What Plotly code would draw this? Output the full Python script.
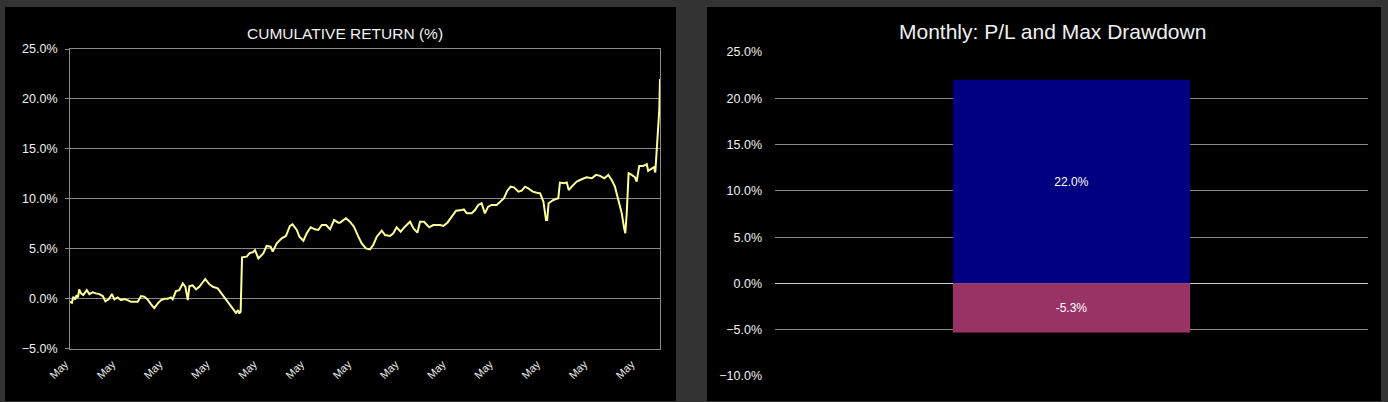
import plotly.graph_objects as go

# ---------------- data ----------------
cum_day = [0.00, 0.08, 0.14, 0.22, 0.28, 0.34, 0.39, 0.47, 0.56, 0.71, 0.82, 0.96, 1.10, 1.24, 1.39, 1.50,
           1.64, 1.78, 1.88, 2.02, 2.16, 2.30, 2.44, 2.58, 2.87, 3.01, 3.15, 3.29, 3.43, 3.57, 3.72, 3.86,
           4.00, 4.14, 4.28, 4.35, 4.49, 4.63, 4.78, 4.89, 4.99, 5.06, 5.20, 5.34, 5.48, 5.73, 5.90, 6.05,
           6.26, 6.40, 6.54, 6.68, 6.82, 6.96, 7.03, 7.12, 7.17, 7.23, 7.26, 7.29, 7.49, 7.60, 7.77, 7.84,
           7.98, 8.19, 8.33, 8.50, 8.59, 8.76, 8.97, 9.15, 9.32, 9.43, 9.61, 9.72, 9.89, 10.03, 10.20, 10.38,
           10.52, 10.67, 10.85, 11.02, 11.19, 11.37, 11.44, 11.69, 11.86, 12.03, 12.22, 12.36, 12.54, 12.71,
           12.85, 13.00, 13.21, 13.35, 13.56, 13.70, 13.84, 14.01, 14.19, 14.41, 14.55, 14.72, 14.83, 15.00,
           15.22, 15.39, 15.68, 15.82, 15.99, 16.17, 16.36, 16.60, 16.69, 16.81, 17.02, 17.16, 17.30, 17.44,
           17.58, 17.72, 17.87, 18.08, 18.25, 18.39, 18.53, 18.67, 18.81, 19.00, 19.14, 19.28, 19.42, 19.61,
           19.78, 19.92, 20.06, 20.17, 20.22, 20.28, 20.48, 20.69, 20.76, 20.93, 21.05, 21.13, 21.26, 21.47,
           21.68, 21.89, 22.11, 22.29, 22.46, 22.64, 22.81, 22.95, 23.09, 23.23, 23.38, 23.47, 23.53, 23.59,
           23.67, 23.80, 23.94, 24.01, 24.12, 24.29, 24.44, 24.50, 24.65, 24.75, 24.80, 24.86, 24.93, 24.97,
           25.00]
cum_ret = [-0.32, -0.42, 0.18, -0.08, 0.35, 0.12, 0.92, 0.52, 0.35, 0.85, 0.45, 0.62, 0.52, 0.45, 0.25, -0.28,
           -0.08, 0.45, -0.08, 0.12, -0.15, -0.05, -0.15, -0.32, -0.32, 0.25, 0.18, -0.08, -0.55, -0.95, -0.48, -0.15,
           -0.02, -0.02, 0.12, -0.08, 0.75, 0.85, 1.52, 1.18, -0.15, 1.25, 1.32, 0.92, 1.18, 1.96, 1.45, 1.18,
           1.02, 0.58, 0.18, -0.32, -0.75, -1.22, -1.42, -1.15, -1.49, -1.32, 1.18, 4.13, 4.20, 4.53, 4.67, 4.86,
           4.03, 4.53, 5.27, 5.20, 4.70, 5.53, 6.03, 6.27, 7.27, 7.44, 6.87, 6.20, 5.80, 6.54, 7.14, 6.94,
           6.87, 7.37, 7.37, 6.94, 7.87, 7.60, 7.60, 8.04, 7.70, 7.20, 6.20, 5.53, 5.03, 4.93,
           5.37, 6.20, 6.80, 6.37, 6.27, 6.54, 7.14, 6.70, 7.20, 7.70, 7.04, 6.60, 7.70, 7.70,
           7.14, 7.37, 7.37, 7.27, 7.60, 8.20, 8.80, 8.87, 8.94, 8.54, 8.54, 8.87, 9.38, 9.55,
           8.54, 9.21, 9.38, 9.38, 9.71, 10.05, 10.81, 11.21, 11.14, 10.71, 10.81, 11.21, 11.04, 10.71,
           10.61, 10.54, 9.71, 7.87, 7.87, 9.55, 9.88, 10.05, 11.62, 11.55, 11.62, 10.88, 11.21, 11.72,
           11.95, 12.15, 12.05, 12.39, 12.29, 12.05, 12.39, 11.89, 11.21, 9.88, 8.54, 7.20, 6.54, 8.54,
           12.56, 12.39, 12.15, 11.72, 13.29, 13.29, 13.46, 12.79, 13.06, 13.16, 12.63, 14.56, 16.90, 18.90,
           22.00]
date_tick_vals = [0, 2, 4, 6, 8, 10, 12, 14, 16, 18, 20, 22, 24]
date_tick_text = ["May"] * 13

month_cat = ["May"]
pl_values = [22.0]
dd_values = [-5.3]
pl_labels = ["22.0%"]
dd_labels = ["-5.3%"]

# ---------------- layout geometry ----------------
W, H = 1388, 402
def px_x(p): return p / W
def px_y(p): return 1 - p / H

L_dom_x = [px_x(70), px_x(660)]
L_dom_y = [px_y(348.5), px_y(49)]
L_range = [-5, 25]
R_dom_x = [px_x(775), px_x(1368)]
R_dom_y = [px_y(376), px_y(52)]
R_range = [-10, 25]
zero_pos = L_dom_y[0] + (0 - L_range[0]) / (L_range[1] - L_range[0]) * (L_dom_y[1] - L_dom_y[0])

GRID = "#8a8a8a"
TXT = "#f0f0f0"
REG = "Liberation Sans, Arial, sans-serif"

fig = go.Figure()
fig.add_trace(go.Scatter(x=cum_day, y=cum_ret, mode="lines",
                         line=dict(color="#ffff99", width=2), xaxis="x", yaxis="y",
                         showlegend=False, hoverinfo="skip"))
fig.add_trace(go.Bar(x=month_cat, y=pl_values, text=pl_labels, marker_color="#000080",
                     marker_line_width=0,
                     width=0.4, xaxis="x2", yaxis="y2", showlegend=False,
                     textposition="inside", insidetextanchor="middle", textangle=0,
                     textfont=dict(color="white", size=12, family=REG)))
fig.add_trace(go.Bar(x=month_cat, y=dd_values, text=dd_labels, marker_color="#993366",
                     marker_line_width=0,
                     width=0.4, xaxis="x2", yaxis="y2", showlegend=False,
                     textposition="inside", insidetextanchor="middle", textangle=0,
                     textfont=dict(color="white", size=12, family=REG)))

fig.update_layout(
    width=W, height=H, autosize=False,
    margin=dict(l=0, r=0, t=0, b=0, pad=0),
    paper_bgcolor="#333333", plot_bgcolor="#000000",
    barmode="relative",
    shapes=[
        dict(type="rect", xref="paper", yref="paper", x0=px_x(5), x1=px_x(676), y0=px_y(401), y1=px_y(7),
             fillcolor="#000000", line=dict(width=0), layer="below"),
        dict(type="rect", xref="paper", yref="paper", x0=px_x(707), x1=px_x(1381), y0=px_y(401), y1=px_y(7),
             fillcolor="#000000", line=dict(width=0), layer="below"),
    ],
    xaxis=dict(domain=L_dom_x, range=[0, 25], anchor="y", tickmode="array",
               tickvals=date_tick_vals, ticktext=date_tick_text, tickangle=-45,
               ticks="", showgrid=False, zeroline=False, showline=True, mirror=True,
               linecolor=GRID, linewidth=1, ticklabelstandoff=4, ticklabelshift=-5,
               tickfont=dict(color=TXT, size=11, family=REG), automargin=False),
    xaxis3=dict(domain=L_dom_x, range=[0, 25], overlaying="x", anchor="free", position=zero_pos,
                tickmode="linear", tick0=0, dtick=1, ticks="outside", ticklen=4, tickcolor="#c8c8c8",
                showticklabels=False, showgrid=False, zeroline=False, showline=True,
                linecolor="#c8c8c8", linewidth=1, automargin=False),
    yaxis=dict(domain=L_dom_y, range=L_range, anchor="x", dtick=5, tick0=0,
               tickformat=".1f", ticksuffix="%", ticks="outside", ticklen=4, tickcolor=GRID,
               showgrid=True, gridcolor=GRID, gridwidth=1, zeroline=False,
               showline=True, mirror=True, linecolor=GRID, ticklabelstandoff=5,
               tickfont=dict(color=TXT, size=12.5, family=REG), automargin=False),
    xaxis2=dict(domain=R_dom_x, anchor="y2", showticklabels=False, ticks="", showgrid=False,
                zeroline=False, showline=False, automargin=False),
    yaxis2=dict(domain=R_dom_y, range=R_range, anchor="x2", dtick=5, tick0=0,
                tickformat=".1f", ticksuffix="%", ticks="", showgrid=True, gridcolor=GRID,
                zeroline=True, zerolinecolor="#d0d0d0", zerolinewidth=1, showline=False,
                ticklabelstandoff=12, tickfont=dict(color=TXT, size=12.5, family=REG),
                automargin=False),
    yaxis4=dict(domain=R_dom_y, range=R_range, overlaying="y2", anchor="x2", side="right",
                showticklabels=False, ticks="", showgrid=False, zeroline=False,
                showline=True, linecolor=GRID, automargin=False),
    annotations=[
        dict(text="CUMULATIVE RETURN (%)", xref="paper", yref="paper", x=px_x(345), y=px_y(34),
             xanchor="center", yanchor="middle", showarrow=False,
             font=dict(color=TXT, size=15.5, family=REG)),
        dict(text="Monthly: P/L and Max Drawdown", xref="paper", yref="paper", x=px_x(1052), y=px_y(32),
             xanchor="center", yanchor="middle", showarrow=False,
             font=dict(color=TXT, size=21, family=REG)),
    ],
)

fig.write_html("out.html", config={"displayModeBar": False},
               post_script="document.body.style.margin='0px';document.body.style.background='#333333';")
